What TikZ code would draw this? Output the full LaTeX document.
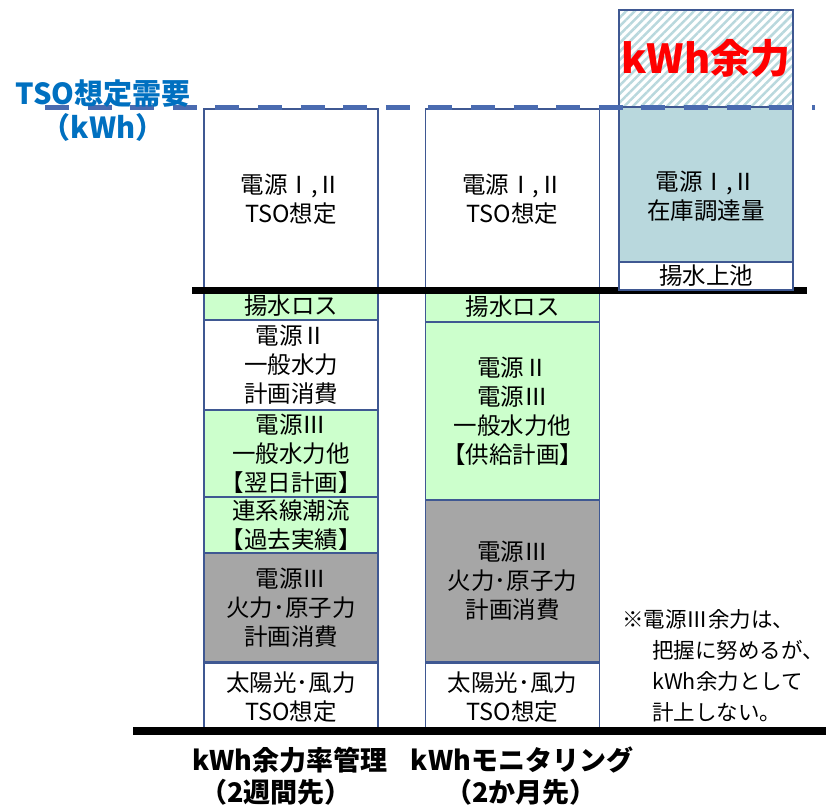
\documentclass[tikz,border=0pt]{standalone}
\usepackage{fontspec}
\setmainfont{Noto Sans CJK JP}
\usetikzlibrary{patterns.meta}

\definecolor{boxblue}{RGB}{63,88,146}
\definecolor{dashblue}{RGB}{74,107,176}
\definecolor{tsoblue}{RGB}{0,112,192}
\definecolor{greenfill}{RGB}{204,255,204}
\definecolor{grayfill}{RGB}{166,166,166}
\definecolor{stockfill}{RGB}{185,216,221}

\begin{document}
\begin{tikzpicture}[x=1pt, y=-1pt,
        blk/.style={draw=boxblue, line width=1.5pt, fill=white, minimum width=174pt, minimum height=#1,
            inner sep=0pt, align=center, font=\fontsize{23.5}{29}\selectfont},
        headtxt/.style={text=tsoblue, font=\fontsize{29}{34}\selectfont\bfseries},
        foottxt/.style={font=\fontsize{27}{32}\selectfont\bfseries}]
        \useasboundingbox (0,0) rectangle (826,807);

        \node[blk=181] (c1top) at (291,199.5) {電源Ⅰ,Ⅱ\\TSO想定};
        \node[blk=28, fill=greenfill] (c1loss) at (291,306) {揚水ロス};
        \node[blk=90] (c1hyd) at (291,365) {電源Ⅱ\\一般水力\\計画消費};
        \node[blk=87, fill=greenfill] (c1gen) at (291,453.5) {電源Ⅲ\\一般水力他\\【翌日計画】};
        \node[blk=56, fill=greenfill] (c1tie) at (291,525) {連系線潮流\\【過去実績】};
        \node[blk=109, fill=grayfill] (c1therm) at (291,607.5) {電源Ⅲ\\火力･原子力\\計画消費};
        \node[blk=68] (c1re) at (291,697) {太陽光･風力\\TSO想定};

        \node[blk=181] (c2top) at (512.5,199.5) {電源Ⅰ,Ⅱ\\TSO想定};
        \node[blk=30, fill=greenfill] (c2loss) at (512.5,307) {揚水ロス};
        \node[blk=178, fill=greenfill] (c2gen) at (512.5,411) {電源Ⅱ\\電源Ⅲ\\一般水力他\\【供給計画】};
        \node[blk=162, fill=grayfill] (c2therm) at (512.5,581) {電源Ⅲ\\火力･原子力\\計画消費};
        \node[blk=68] (c2re) at (512.5,697) {太陽光･風力\\TSO想定};

        \coordinate (midL) at (192,290.5);
        \coordinate (midR) at (807,290.5);
        \draw[line width=7pt] (midL) -- (midR);

        \node[blk=97, fill=none, pattern={Lines[angle=45,distance=6pt,line width=2.5pt]}, pattern color=stockfill,
            text=red, font=\fontsize{40}{48}\selectfont\bfseries] (c3kwh) at (706,58.5) {kWh余力};
        \node[blk=155, fill=stockfill] (c3stock) at (706,184.5) {};
        \node[align=center, inner sep=0pt, font=\fontsize{23.5}{29}\selectfont] (c3stocktxt)
            at ([yshift=-12pt]c3stock.center) {電源Ⅰ,Ⅱ\\在庫調達量};
        \node[blk=28] (c3pump) at (706,276) {揚水上池};

        \coordinate (dashL) at (45,107.5);
        \coordinate (dashR) at (815,107.5);
        \draw[dashblue, line width=5pt, dash pattern=on 24pt off 18.6pt] (dashL) -- (dashR);

        \coordinate (baseL) at (133,731);
        \coordinate (baseR) at (826,731);
        \draw[line width=8pt] (baseL) -- (baseR);

        \node[headtxt] (demand) at (103,94) {TSO想定需要};
        \node[headtxt] (demandunit) at (103,127) {（kWh）};

        \node[foottxt] (mng) at (290,760) {kWh余力率管理};
        \node[foottxt] (mngterm) at (276,792) {（2週間先）};
        \node[foottxt] (mon) at (522,760) {kWhモニタリング};
        \node[foottxt] (monterm) at (521,792) {（2か月先）};

        \node[anchor=west, inner sep=0pt, align=left, font=\fontsize{21.5}{31}\selectfont] (note) at (622,666)
            {※電源Ⅲ余力は、\\\hspace*{30pt}把握に努めるが、\\\hspace*{30pt}kWh余力として\\\hspace*{30pt}計上しない。};
\end{tikzpicture}
\end{document}
